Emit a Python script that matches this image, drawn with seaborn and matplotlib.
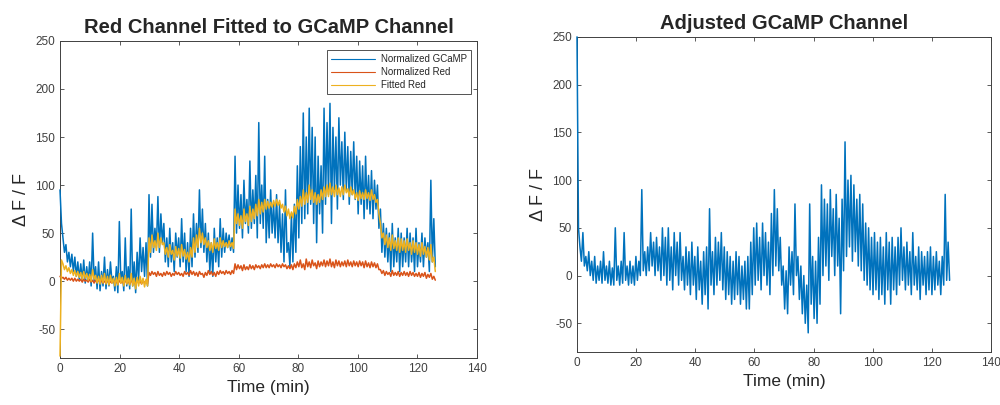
import matplotlib
matplotlib.use('Agg')
import matplotlib.pyplot as plt
import seaborn as sns
import numpy as np

# Normalized GCaMP (left panel), two samples per minute, 0..126 min
gcamp = [95, 60, 45, 30, 38, 20, 30, 15, 28, 10, 25, 5, 20, 2, 18, 0, 22, -2, 15, 0,
         20, -5, 50, 0, 15, -8, 20, -10, 10, -5, 25, -8, 12, -5, 20, 0, 5, -10, 15, -12,
         62, 0, 10, -10, 45, -5, 15, -8, 75, -5, 20, -12, 30, 0, 45, 10, 35, 5, 40, -5,
         90, 25, 80, 30, 55, 35, 88, 30, 70, 40, 60, 20, 45, 15, 55, 20, 40, 10, 50, 25,
         45, 15, 65, 20, 50, 10, 40, 5, 55, 15, 70, 25, 60, 30, 95, 35, 75, 30, 60, 20,
         50, 10, 40, 5, 55, 20, 45, 15, 65, 25, 55, 30, 50, 35, 48, 32, 45, 30, 130, 50,
         100, 55, 90, 45, 105, 60, 85, 50, 125, 55, 95, 60, 110, 45, 165, 60, 100, 55, 130, 40,
         85, 45, 95, 50, 80, 45, 90, 40, 80, 30, 70, 20, 95, 30, 40, 15, 70, 20, 80, 30,
         120, 45, 140, 60, 175, 65, 150, 70, 180, 80, 160, 60, 150, 40, 130, 70, 120, 50, 180, 80,
         165, 90, 185, 60, 160, 95, 150, 75, 170, 100, 145, 85, 155, 95, 140, 80, 135, 90, 145, 85,
         130, 70, 125, 80, 120, 65, 130, 75, 110, 70, 115, 65, 105, 75, 100, 55, 75, 30, 60, 25,
         55, 20, 50, 10, 60, 15, 45, 20, 55, 10, 50, 15, 45, 20, 55, 15, 50, 20, 45, 10,
         55, 15, 40, 20, 50, 15, 45, 25, 40, 10, 105, 20, 65, 15]

# Normalized red channel
red = [5, 3, 4, 2, 4, 1, 3, 1, 3, 0, 3, 0, 2, 0, 2, -1, 2, 0, 1, -1,
       2, -1, 1, -2, 1, -1, 2, -2, 1, -2, 0, -2, 1, -3, 0, -2, 1, -2, 0, -3,
       1, -2, 0, -3, 1, -2, 0, -3, 1, -2, 0, -4, 1, -2, 0, -3, 1, -2, 0, -3,
       9, 6, 10, 7, 9, 5, 10, 6, 8, 5, 9, 6, 10, 7, 9, 5, 8, 6, 10, 7,
       9, 6, 8, 5, 10, 7, 9, 6, 11, 7, 10, 6, 9, 5, 10, 7, 8, 4, 9, 6,
       11, 7, 10, 6, 9, 5, 10, 7, 11, 8, 10, 7, 11, 8, 10, 7, 11, 8, 18, 12,
       17, 13, 16, 11, 17, 12, 15, 12, 17, 13, 16, 12, 17, 14, 16, 13, 17, 14, 18, 14,
       17, 14, 18, 15, 17, 14, 18, 15, 17, 14, 18, 15, 17, 13, 16, 13, 17, 12, 18, 14,
       20, 15, 22, 14, 18, 12, 23, 15, 20, 14, 22, 16, 19, 13, 21, 15, 20, 16, 22, 15,
       21, 16, 23, 15, 20, 14, 22, 16, 21, 15, 20, 16, 21, 15, 22, 16, 20, 15, 21, 16,
       20, 15, 21, 16, 20, 14, 21, 15, 19, 14, 20, 15, 19, 14, 18, 12, 12, 8, 11, 6,
       10, 7, 9, 5, 11, 6, 9, 6, 10, 5, 9, 6, 10, 6, 9, 5, 10, 6, 9, 5,
       8, 5, 9, 4, 8, 5, 9, 3, 7, 4, 8, 2, 5, 1]

# Fitted red channel
fitted = [-78, 22, 18, 12, 16, 10, 14, 8, 12, 6, 11, 5, 10, 4, 9, 2, 10, 3, 8, 1,
          7, 0, 12, 2, 6, -2, 5, -3, 6, -2, 8, -3, 5, -4, 6, -2, 3, -5, 4, -4,
          8, -2, 4, -5, 6, -3, 3, -4, 8, -5, 3, -8, 4, -5, 5, -3, 3, -6, 2, -5,
          45, 30, 48, 35, 42, 32, 50, 35, 45, 38, 40, 28, 35, 25, 38, 28, 32, 22, 36, 26,
          34, 24, 38, 26, 33, 23, 30, 20, 35, 25, 45, 30, 48, 35, 55, 40, 50, 38, 45, 35,
          42, 32, 40, 30, 44, 34, 40, 32, 45, 35, 42, 36, 40, 35, 42, 36, 40, 34, 75, 60,
          70, 58, 68, 55, 75, 62, 70, 58, 78, 62, 75, 65, 80, 68, 85, 70, 82, 72, 85, 75,
          83, 76, 82, 77, 84, 78, 85, 79, 84, 76, 80, 72, 78, 68, 75, 65, 72, 66, 78, 70,
          85, 75, 88, 78, 95, 80, 92, 82, 100, 85, 95, 82, 92, 80, 90, 82, 95, 85, 98, 88,
          100, 88, 102, 90, 98, 88, 100, 90, 97, 88, 98, 90, 100, 92, 96, 88, 98, 90, 95, 86,
          92, 84, 94, 86, 92, 85, 95, 86, 92, 84, 95, 85, 90, 82, 85, 70, 60, 45, 50, 38,
          48, 35, 45, 32, 48, 34, 42, 32, 45, 30, 44, 32, 42, 30, 44, 32, 40, 28, 42, 30,
          40, 28, 38, 26, 40, 28, 36, 25, 35, 22, 38, 20, 25, 10]

# Adjusted GCaMP (right panel)
adjusted = [250, 50, 30, 15, 45, 10, 20, 5, 25, 0, 15, -5, 20, -8, 10, -5, 15, -8, 25, -5,
            10, -8, 15, -10, 8, -10, 50, -5, 10, -10, 15, -8, 45, -5, 10, -10, 15, -8, 10, -10,
            20, -5, 15, 0, 90, 5, 25, 0, 30, 5, 45, 10, 35, 0, 40, 5, 30, -5, 50, 0,
            40, -10, 50, -5, 30, -15, 45, 0, 35, -10, 45, -5, 20, -15, 30, -10, 25, -20, 35, -10,
            20, -25, 30, -15, 15, -30, 25, -20, 30, -35, 70, -10, 25, -20, 40, -10, 35, -5, 45, -15,
            30, -25, 25, -20, 20, -30, 15, -25, 25, -20, 20, -30, 10, -25, 15, -35, 20, -35, 35, -20,
            50, -10, 55, -5, 40, -15, 55, 0, 45, -10, 35, -20, 65, 0, 90, 10, 70, 5, 40, -10,
            10, -35, 5, -40, 30, -10, 25, -20, 75, 0, 20, -25, 10, -40, 0, -50, -10, -60, 75, -30,
            20, -45, 15, -50, 40, -30, 95, 0, 80, 10, 75, -5, 90, 20, 70, 0, 85, 10, 60, -40,
            80, 5, 140, 20, 100, 30, 105, 15, 95, 25, 80, 10, 85, 5, 75, -5, 55, -10, 50, -15,
            40, -20, 45, -15, 35, -25, 40, -20, 30, -30, 45, -15, 35, -30, 40, -15, 30, -20, 40, -10,
            50, -5, 30, -15, 35, -10, 25, -20, 45, -10, 20, -15, 30, -25, 25, -10, 20, -20, 25, -15,
            30, -20, 20, -15, 25, -10, 15, -20, 20, -10, 85, -5, 35, -5]

t_end = 126
blue = '#0072BD'
orange = '#D95319'
yellow = '#EDB120'

sns.set_style('white')
plt.rcParams['font.family'] = ['Liberation Sans', 'DejaVu Sans']
plt.rcParams['axes.unicode_minus'] = False

fig = plt.figure(figsize=(10, 4.05), dpi=100)
ax1 = fig.add_axes([0.06, 0.116, 0.417, 0.783])
ax2 = fig.add_axes([0.577, 0.131, 0.414, 0.778])

lw = 1.1
sns.lineplot(x=np.linspace(0, t_end, len(gcamp)), y=gcamp, ax=ax1, color=blue,
             linewidth=lw, label='Normalized GCaMP', sort=False, estimator=None)
sns.lineplot(x=np.linspace(0, t_end, len(red)), y=red, ax=ax1, color=orange,
             linewidth=lw, label='Normalized Red', sort=False, estimator=None)
sns.lineplot(x=np.linspace(0, t_end, len(fitted)), y=fitted, ax=ax1, color=yellow,
             linewidth=lw, label='Fitted Red', sort=False, estimator=None)
sns.lineplot(x=np.linspace(0, t_end, len(adjusted)), y=adjusted, ax=ax2, color=blue,
             linewidth=lw, sort=False, estimator=None)
for ln in ax1.lines + ax2.lines:
    ln.set_clip_on(False)
    ln.set_zorder(3)

for ax, title in [(ax1, 'Red Channel Fitted to GCaMP Channel'), (ax2, 'Adjusted GCaMP Channel')]:
    ax.set_xlim(0, 140)
    ax.set_ylim(-80, 250)
    ax.set_xticks(range(0, 141, 20))
    ax.set_yticks(range(-50, 251, 50))
    ax.tick_params(direction='in', length=3, width=0.6, labelsize=8.5,
                   labelcolor='#404040', color='#404040',
                   top=True, right=True, bottom=True, left=True)
    for s in ax.spines.values():
        s.set_color('#404040')
        s.set_linewidth(0.7)
        s.set_zorder(2)
    ax.set_title(title, fontsize=14.5, fontweight='bold', pad=6)
    ax.set_xlabel('Time (min)', fontsize=12.5, color='#262626', labelpad=4)
    ax.set_ylabel('\u0394 F / F', fontsize=13, color='#262626', labelpad=4)

leg = ax1.legend(loc='upper right', bbox_to_anchor=(0.985, 0.97), fontsize=7,
                 frameon=True, fancybox=False, borderpad=0.4, labelspacing=0.3,
                 handlelength=4.5, handletextpad=0.6, borderaxespad=0)
leg.get_frame().set_edgecolor('#262626')
leg.get_frame().set_linewidth(0.7)
leg.set_zorder(5)
for h in leg.get_lines():
    h.set_linewidth(0.8)

plt.savefig('out.png', dpi=100)
